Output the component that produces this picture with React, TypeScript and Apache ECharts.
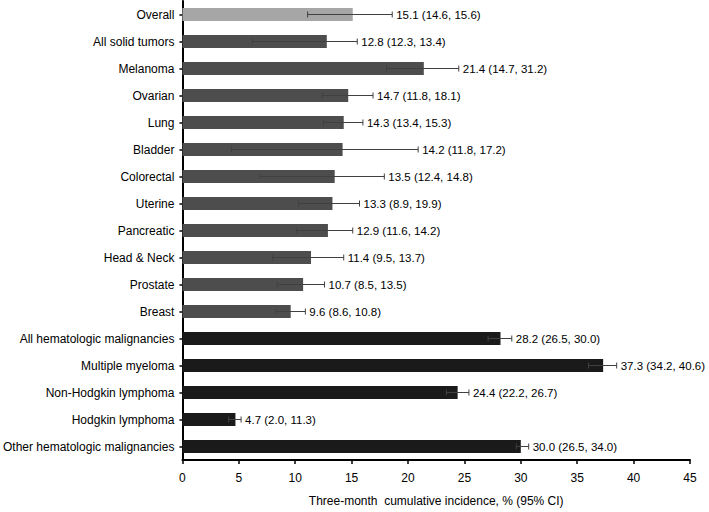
import React, { useEffect, useRef } from "react";
import * as echarts from "echarts";

const categories = [
  "Overall",
  "All solid tumors",
  "Melanoma",
  "Ovarian",
  "Lung",
  "Bladder",
  "Colorectal",
  "Uterine",
  "Pancreatic",
  "Head & Neck",
  "Prostate",
  "Breast",
  "All hematologic malignancies",
  "Multiple myeloma",
  "Non-Hodgkin lymphoma",
  "Hodgkin lymphoma",
  "Other hematologic malignancies",
];

// point estimates (bar length)
const values = [15.1, 12.8, 21.4, 14.7, 14.3, 14.2, 13.5, 13.3, 12.9, 11.4, 10.7, 9.6, 28.2, 37.3, 24.4, 4.7, 30.0];

// error bar extents as drawn
const barLow = [11.1, 6.2, 18.1, 12.4, 12.5, 4.35, 6.9, 10.3, 10.1, 8.0, 8.4, 8.3, 27.1, 36.0, 23.4, 4.1, 29.6];
const barHigh = [18.6, 15.5, 24.5, 16.9, 16.0, 20.9, 17.9, 15.7, 15.1, 14.3, 12.6, 10.9, 29.2, 38.5, 25.4, 5.2, 30.7];

// reported 95% CI (label text)
const ciLow = [14.6, 12.3, 14.7, 11.8, 13.4, 11.8, 12.4, 8.9, 11.6, 9.5, 8.5, 8.6, 26.5, 34.2, 22.2, 2.0, 26.5];
const ciHigh = [15.6, 13.4, 31.2, 18.1, 15.3, 17.2, 14.8, 19.9, 14.2, 13.7, 13.5, 10.8, 30.0, 40.6, 26.7, 11.3, 34.0];

// group of each category: 0 overall, 1 solid, 2 hematologic
const groups = [0, 1, 1, 1, 1, 1, 1, 1, 1, 1, 1, 1, 2, 2, 2, 2, 2];
const groupColors = ["#a6a6a6", "#4d4d4d", "#1a1a1a"];

const xTicks = { min: 0, max: 45, interval: 5 };
const xTitle = "Three-month  cumulative incidence, % (95% CI)";

const FONT = "'Liberation Sans', Arial, sans-serif";

const labels = values.map(
  (v, i) => `${v.toFixed(1)} (${ciLow[i].toFixed(1)}, ${ciHigh[i].toFixed(1)})`
);

export default function App() {
  const ref = useRef<HTMLDivElement>(null);
  useEffect(() => {
    if (!ref.current) return;
    const chart = echarts.init(ref.current, null, { renderer: "svg" });
    const errStroke = "#404040";
    chart.setOption({
      animation: false,
      backgroundColor: "#ffffff",
      textStyle: { fontFamily: FONT },
      grid: { left: 180, right: 19, top: 1, bottom: 42, containLabel: false },
      xAxis: {
        type: "value",
        min: xTicks.min,
        max: xTicks.max,
        interval: xTicks.interval,
        splitLine: { show: false },
        axisLine: { show: true, lineStyle: { color: "#000", width: 2 } },
        axisTick: { show: true, length: 4, lineStyle: { color: "#000", width: 1.5 } },
        axisLabel: { color: "#000", fontSize: 12, fontFamily: FONT, margin: 12 },
        name: xTitle,
        nameLocation: "middle",
        nameGap: 35,
        nameTextStyle: { color: "#000", fontSize: 12, fontFamily: FONT },
      },
      yAxis: {
        type: "category",
        inverse: true,
        data: categories,
        axisLine: { show: true, lineStyle: { color: "#000", width: 2 } },
        axisTick: { show: true, length: 3, alignWithLabel: true, lineStyle: { color: "#000", width: 1.5 } },
        axisLabel: { color: "#000", fontSize: 12, fontFamily: FONT, margin: 8 },
      },
      series: [
        {
          type: "bar",
          barWidth: 13,
          data: values.map((v, i) => ({
            value: v,
            itemStyle: { color: groupColors[groups[i]] },
          })),
        },
        {
          type: "custom",
          z: 5,
          encode: { y: 0, x: [1, 2] },
          data: categories.map((_, i) => [i, barLow[i], barHigh[i]]),
          renderItem: (params: any, api: any) => {
            const idx = api.value(0);
            const lo = api.coord([api.value(1), idx]);
            const hi = api.coord([api.value(2), idx]);
            const cap = 3;
            const style = { stroke: errStroke, lineWidth: 1 };
            return {
              type: "group",
              children: [
                { type: "line", shape: { x1: lo[0], y1: lo[1], x2: hi[0], y2: hi[1] }, style },
                { type: "line", shape: { x1: lo[0], y1: lo[1] - cap, x2: lo[0], y2: lo[1] + cap }, style },
                { type: "line", shape: { x1: hi[0], y1: hi[1] - cap, x2: hi[0], y2: hi[1] + cap }, style },
                {
                  type: "text",
                  x: hi[0] + 4,
                  y: hi[1],
                  style: {
                    text: labels[params.dataIndex],
                    fill: "#000",
                    fontSize: 11.5,
                    fontFamily: FONT,
                    align: "left",
                    verticalAlign: "middle",
                  },
                },
              ],
            };
          },
        },
      ],
    });
    return () => chart.dispose();
  }, []);
  return (
    <div
      ref={ref}
      style={{ position: "fixed", left: 0, top: 0, width: 709, height: 512, background: "#fff" }}
    />
  );
}
